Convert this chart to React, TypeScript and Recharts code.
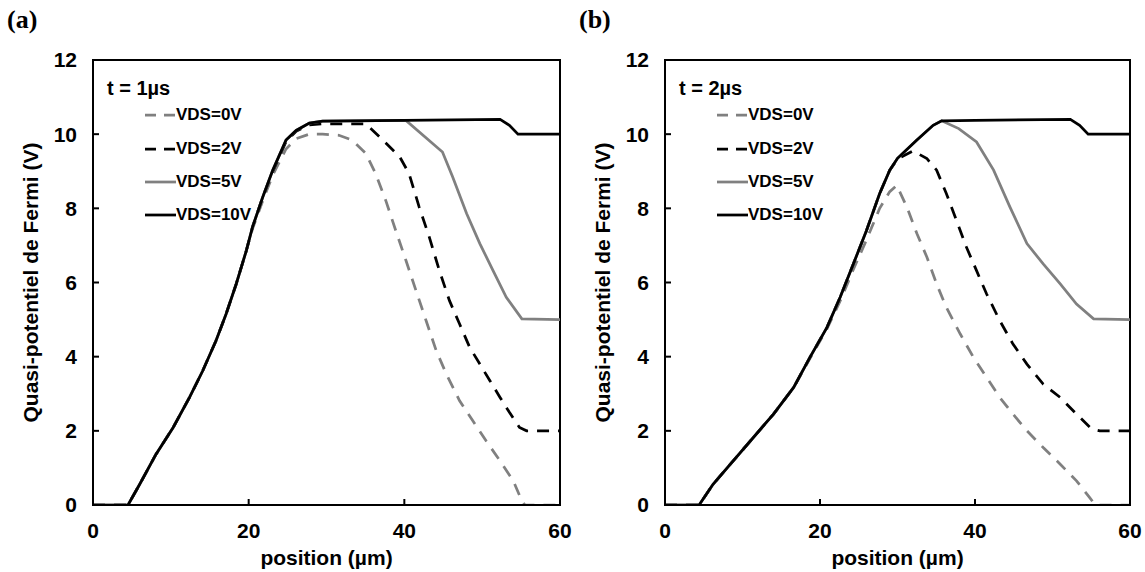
import { LineChart, Line, XAxis, YAxis, ReferenceArea } from 'recharts';

// axis ticks
const xTicks = [0, 20, 40, 60];
const yTicks = [0, 2, 4, 6, 8, 10, 12];

const seriesNames = ['VDS=0V', 'VDS=2V', 'VDS=5V', 'VDS=10V'];

// panel (a), t = 1us
const posA0 = [0, 4.5, 6, 8.1, 10.3, 12.4, 14.1, 15.8, 17.1, 18.4, 19.7, 20.5, 21.8, 23.1, 24.8, 26.1, 27.8, 29.5, 31.6, 33.3, 35.05, 36.3, 37.6, 38.9, 40.2, 41.5, 42.8, 44.1, 45.4, 47.1, 48.8, 50.5, 52.3, 54, 55.1, 55.5, 60];
const potA0 = [0, 0, 0.56, 1.37, 2.09, 2.9, 3.62, 4.43, 5.15, 5.96, 6.86, 7.45, 8.2, 8.9, 9.6, 9.88, 10.0, 10.0, 9.97, 9.84, 9.48, 8.94, 8.22, 7.4, 6.6, 5.78, 4.97, 4.16, 3.53, 2.81, 2.27, 1.73, 1.19, 0.65, 0.11, 0, 0];

const posA2 = [0, 4.5, 6, 8.1, 10.3, 12.4, 14.1, 15.8, 17.1, 18.4, 19.7, 20.5, 21.8, 23.1, 24.8, 26.1, 27.8, 29.5, 35.05, 36.8, 39.4, 40.6, 41.9, 43.2, 44.5, 45.8, 47.1, 48.4, 49.7, 51, 52.3, 53.5, 54.8, 55.7, 60];
const potA2 = [0, 0, 0.56, 1.37, 2.09, 2.9, 3.62, 4.43, 5.15, 5.96, 6.86, 7.5, 8.3, 9.0, 9.8, 10.08, 10.25, 10.28, 10.28, 9.93, 9.39, 8.94, 8.04, 7.23, 6.32, 5.51, 4.88, 4.25, 3.8, 3.35, 2.9, 2.5, 2.09, 2.0, 2.0];

const posA5 = [0, 4.5, 6, 8.1, 10.3, 12.4, 14.1, 15.8, 17.1, 18.4, 19.7, 20.5, 21.8, 23.1, 24.8, 26.1, 27.8, 29.5, 40.2, 44.9, 46.2, 48, 49.7, 51.4, 53.1, 55.1, 60];
const potA5 = [0, 0, 0.56, 1.37, 2.09, 2.9, 3.62, 4.43, 5.15, 5.96, 6.86, 7.5, 8.3, 9.03, 9.84, 10.1, 10.3, 10.35, 10.37, 9.52, 8.85, 7.86, 7.05, 6.32, 5.6, 5.02, 5.0];

const posA10 = [0, 4.5, 6, 8.1, 10.3, 12.4, 14.1, 15.8, 17.1, 18.4, 19.7, 20.5, 21.8, 23.1, 24.8, 26.1, 27.8, 29.5, 40, 52.3, 53.5, 54.6, 60];
const potA10 = [0, 0, 0.56, 1.37, 2.09, 2.9, 3.62, 4.43, 5.15, 5.96, 6.86, 7.5, 8.3, 9.03, 9.84, 10.1, 10.3, 10.35, 10.37, 10.4, 10.24, 10.0, 10.0];

// panel (b), t = 2us
const posB0 = [0, 4.4, 6.2, 8.8, 11.4, 14, 16.6, 18.7, 20.9, 22.6, 24.3, 26, 27.7, 29, 29.9, 31.2, 32.5, 33.8, 35.05, 36.3, 38.1, 39.8, 41.5, 43.2, 44.9, 46.7, 48.8, 51, 53.1, 54.8, 55.5, 60];
const potB0 = [0, 0, 0.56, 1.19, 1.82, 2.45, 3.17, 3.95, 4.75, 5.5, 6.35, 7.15, 8.0, 8.45, 8.62, 8.04, 7.32, 6.68, 5.96, 5.33, 4.61, 3.98, 3.44, 2.9, 2.45, 2.0, 1.55, 1.1, 0.65, 0.2, 0, 0];

const posB2 = [0, 4.4, 6.2, 8.8, 11.4, 14, 16.6, 18.7, 20.9, 22.6, 24.3, 26, 27.7, 29, 30, 32, 33.8, 35.05, 36.3, 37.6, 38.9, 40.2, 41.5, 43.2, 44.9, 46.7, 48.8, 51, 53.1, 55.05, 56.1, 60];
const potB2 = [0, 0, 0.56, 1.19, 1.82, 2.45, 3.17, 3.98, 4.79, 5.6, 6.5, 7.4, 8.4, 9.03, 9.33, 9.55, 9.34, 9.03, 8.4, 7.68, 6.95, 6.32, 5.69, 4.97, 4.34, 3.8, 3.26, 2.9, 2.45, 2.05, 2.0, 2.0];

const posB5 = [0, 4.4, 6.2, 8.8, 11.4, 14, 16.6, 18.7, 20.9, 22.6, 24.3, 26, 27.7, 29, 30, 32.5, 34.6, 35.7, 37.9, 40.2, 42.4, 44.5, 46.7, 48.8, 51, 53.1, 55.3, 60];
const potB5 = [0, 0, 0.56, 1.19, 1.82, 2.45, 3.17, 3.98, 4.79, 5.6, 6.5, 7.4, 8.4, 9.03, 9.35, 9.84, 10.24, 10.36, 10.15, 9.79, 9.03, 8.04, 7.05, 6.5, 5.96, 5.42, 5.02, 5.0];

const posB10 = [0, 4.4, 6.2, 8.8, 11.4, 14, 16.6, 18.7, 20.9, 22.6, 24.3, 26, 27.7, 29, 30, 32.5, 34.6, 35.7, 40, 52.3, 53.5, 54.6, 60];
const potB10 = [0, 0, 0.56, 1.19, 1.82, 2.45, 3.17, 3.98, 4.79, 5.6, 6.5, 7.4, 8.4, 9.03, 9.35, 9.84, 10.24, 10.36, 10.37, 10.4, 10.24, 10.0, 10.0];

const zip = (xs: number[], ys: number[]) => xs.map((x, i) => ({ x, y: ys[i] }));

const GRAY = '#808080';
const styles = [
  { stroke: GRAY, dash: '12 9' },
  { stroke: '#000', dash: '12 9' },
  { stroke: GRAY, dash: undefined },
  { stroke: '#000', dash: undefined },
];

const FONT = '"Liberation Sans", Arial, sans-serif';
const tickStyle = { fontSize: 21, fontWeight: 700, fill: '#000', fontFamily: FONT };

function Panel({ left, width, tag, time, series }: any) {
  return (
    <div style={{ position: 'absolute', left, top: 0, width, height: 572 }}>
      <LineChart width={width} height={572} margin={{ top: 60, right: 15, bottom: 0, left: 0 }}>
        <XAxis
          type="number"
          dataKey="x"
          domain={[0, 60]}
          ticks={xTicks}
          interval={0}
          allowDataOverflow
          height={67}
          tickSize={-6}
          tickMargin={24}
          tick={tickStyle}
          axisLine={{ stroke: '#000', strokeWidth: 2 }}
          tickLine={{ stroke: '#000', strokeWidth: 2 }}
          label={{ value: 'position (µm)', position: 'insideBottom', offset: 7, style: { fontSize: 21, fontWeight: 700, fill: '#000', fontFamily: FONT } }}
        />
        <YAxis
          type="number"
          domain={[0, 12]}
          ticks={yTicks}
          interval={0}
          allowDataOverflow
          width={93}
          tickSize={-6}
          tickMargin={22}
          tick={tickStyle}
          axisLine={{ stroke: '#000', strokeWidth: 2 }}
          tickLine={{ stroke: '#000', strokeWidth: 2 }}
          label={{ value: 'Quasi-potentiel de Fermi (V)', angle: -90, position: 'insideLeft', offset: 31, style: { textAnchor: 'middle', fontSize: 21, fontWeight: 700, fill: '#000', fontFamily: FONT } }}
        />
        <ReferenceArea x1={0} x2={60} y1={0} y2={12} fill="none" fillOpacity={0} stroke="#000" strokeWidth={2} strokeOpacity={1} />
        {series.map((s: any, i: number) => (
          <Line
            key={seriesNames[i]}
            data={s}
            dataKey="y"
            name={seriesNames[i]}
            type="linear"
            stroke={styles[i].stroke}
            strokeDasharray={styles[i].dash}
            strokeWidth={2.75}
            dot={false}
            isAnimationActive={false}
          />
        ))}
      </LineChart>

      {/* panel tag */}
      <div style={{ position: 'absolute', left: 7, top: 5, fontFamily: '"Liberation Serif", "Times New Roman", serif', fontWeight: 700, fontSize: 26 }}>
        {tag}
      </div>

      {/* legend */}
      <div style={{ position: 'absolute', left: 107, top: 77, fontFamily: FONT, fontWeight: 700, fontSize: 20, lineHeight: '22px' }}>
        {time}
      </div>
      {seriesNames.map((name, i) => (
        <div
          key={name}
          style={{ position: 'absolute', left: 145, top: [115, 149, 182, 215][i] - 10, height: 20, display: 'flex', alignItems: 'center', fontFamily: FONT, fontWeight: 700, fontSize: 17 }}
        >
          <svg width={31} height={20}>
            <line x1={0} y1={10} x2={31} y2={10} stroke={styles[i].stroke} strokeWidth={2.75} strokeDasharray={styles[i].dash ? '11 8' : undefined} />
          </svg>
          <span>{name}</span>
        </div>
      ))}
    </div>
  );
}

export default function App() {
  const seriesA = [zip(posA0, potA0), zip(posA2, potA2), zip(posA5, potA5), zip(posA10, potA10)];
  const seriesB = [zip(posB0, potB0), zip(posB2, potB2), zip(posB5, potB5), zip(posB10, potB10)];

  return (
    <div style={{ position: 'absolute', left: 0, top: 0, width: 1145, height: 572, background: '#fff' }}>
      <Panel left={0} width={575} tag="(a)" time="t = 1µs" series={seriesA} />
      <Panel left={572} width={573} tag="(b)" time="t = 2µs" series={seriesB} />
    </div>
  );
}
